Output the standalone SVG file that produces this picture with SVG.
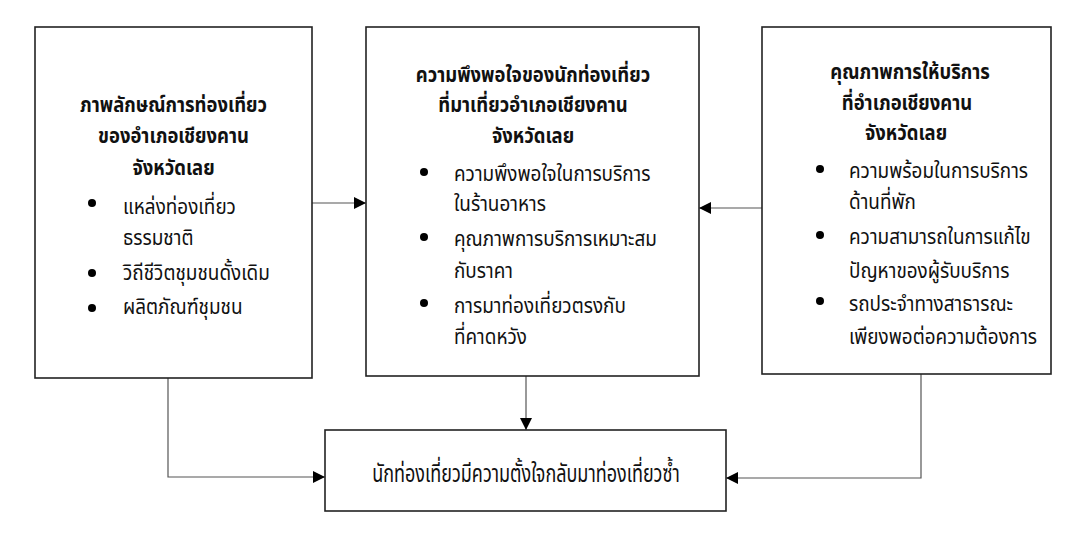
<svg xmlns="http://www.w3.org/2000/svg" width="1089" height="543" viewBox="0 0 1089 543">
<style>
.box{fill:#fff;stroke:#222;stroke-width:1.6}
.t{font-family:"Noto Sans Thai","Noto Sans","DejaVu Sans",sans-serif;font-size:22px;fill:#111}
.b{font-weight:bold;text-anchor:middle;font-size:20.5px}
.big{font-size:25px;text-anchor:middle}
.c{stroke:#555;stroke-width:1.2;fill:none}
.dot{fill:#000}
</style>
<defs>
<marker id="ah" markerWidth="12" markerHeight="12" refX="12" refY="6" orient="auto" markerUnits="userSpaceOnUse">
<path d="M0,0 L12,6 L0,12 Z" fill="#000"/>
</marker>
</defs>
<rect width="1089" height="543" fill="#fff"/>
<g id="connectors">
<line class="c" x1="312" y1="203" x2="366" y2="203" marker-end="url(#ah)"/>
<line class="c" x1="762" y1="208" x2="699" y2="208" marker-end="url(#ah)"/>
<line class="c" x1="526" y1="376" x2="526" y2="430" marker-end="url(#ah)"/>
<polyline class="c" points="168,378 168,477 325,477" marker-end="url(#ah)"/>
<polyline class="c" points="921,374 921,478 726,478" marker-end="url(#ah)"/>
</g>
<g id="node-image">
<rect class="box" x="35" y="27" width="277" height="351"/>
<text class="t b" transform="translate(173.5,112) scale(0.9,1)">ภาพลักษณ์การท่องเที่ยว</text>
<text class="t b" transform="translate(173.5,143) scale(0.9,1)">ของอำเภอเชียงคาน</text>
<text class="t b" transform="translate(173.5,175) scale(0.9,1)">จังหวัดเลย</text>
<circle class="dot" cx="92" cy="203" r="4"/>
<text class="t" transform="translate(123,214) scale(0.86,1)">แหล่งท่องเที่ยว</text>
<text class="t" transform="translate(123,245) scale(0.86,1)">ธรรมชาติ</text>
<circle class="dot" cx="92" cy="273" r="4"/>
<text class="t" transform="translate(123,280) scale(0.86,1)">วิถีชีวิตชุมชนดั้งเดิม</text>
<circle class="dot" cx="92" cy="308" r="4"/>
<text class="t" transform="translate(123,314) scale(0.86,1)">ผลิตภัณฑ์ชุมชน</text>
</g>
<g id="node-satisfaction">
<rect class="box" x="366" y="27" width="333" height="349"/>
<text class="t b" transform="translate(533,82) scale(0.9,1)">ความพึงพอใจของนักท่องเที่ยว</text>
<text class="t b" transform="translate(533,112) scale(0.9,1)">ที่มาเที่ยวอำเภอเชียงคาน</text>
<text class="t b" transform="translate(533,143) scale(0.9,1)">จังหวัดเลย</text>
<circle class="dot" cx="424" cy="172" r="4"/>
<text class="t" transform="translate(454,181) scale(0.86,1)">ความพึงพอใจในการบริการ</text>
<text class="t" transform="translate(454,211) scale(0.86,1)">ในร้านอาหาร</text>
<circle class="dot" cx="424" cy="237" r="4"/>
<text class="t" transform="translate(454,246) scale(0.86,1)">คุณภาพการบริการเหมาะสม</text>
<text class="t" transform="translate(454,278) scale(0.86,1)">กับราคา</text>
<circle class="dot" cx="424" cy="303" r="4"/>
<text class="t" transform="translate(454,313) scale(0.86,1)">การมาท่องเที่ยวตรงกับ</text>
<text class="t" transform="translate(454,344) scale(0.86,1)">ที่คาดหวัง</text>
</g>
<g id="node-quality">
<rect class="box" x="762" y="27" width="289" height="347"/>
<text class="t b" transform="translate(910,79) scale(0.9,1)">คุณภาพการให้บริการ</text>
<text class="t b" transform="translate(907,110) scale(0.9,1)">ที่อำเภอเชียงคาน</text>
<text class="t b" transform="translate(906,140) scale(0.9,1)">จังหวัดเลย</text>
<circle class="dot" cx="820" cy="169" r="4"/>
<text class="t" transform="translate(849,178) scale(0.86,1)">ความพร้อมในการบริการ</text>
<text class="t" transform="translate(849,209) scale(0.86,1)">ด้านที่พัก</text>
<circle class="dot" cx="820" cy="235" r="4"/>
<text class="t" transform="translate(849,244) scale(0.86,1)">ความสามารถในการแก้ไข</text>
<text class="t" transform="translate(849,278) scale(0.86,1)">ปัญหาของผู้รับบริการ</text>
<circle class="dot" cx="820" cy="301" r="4"/>
<text class="t" transform="translate(849,311) scale(0.86,1)">รถประจำทางสาธารณะ</text>
<text class="t" transform="translate(849,344) scale(0.86,1)">เพียงพอต่อความต้องการ</text>
</g>
<g id="node-intention">
<rect class="box" x="325" y="430" width="401" height="81"/>
<text class="t big" transform="translate(526,482) scale(0.72,1)">นักท่องเที่ยวมีความตั้งใจกลับมาท่องเที่ยวซ้ำ</text>
</g>
</svg>
